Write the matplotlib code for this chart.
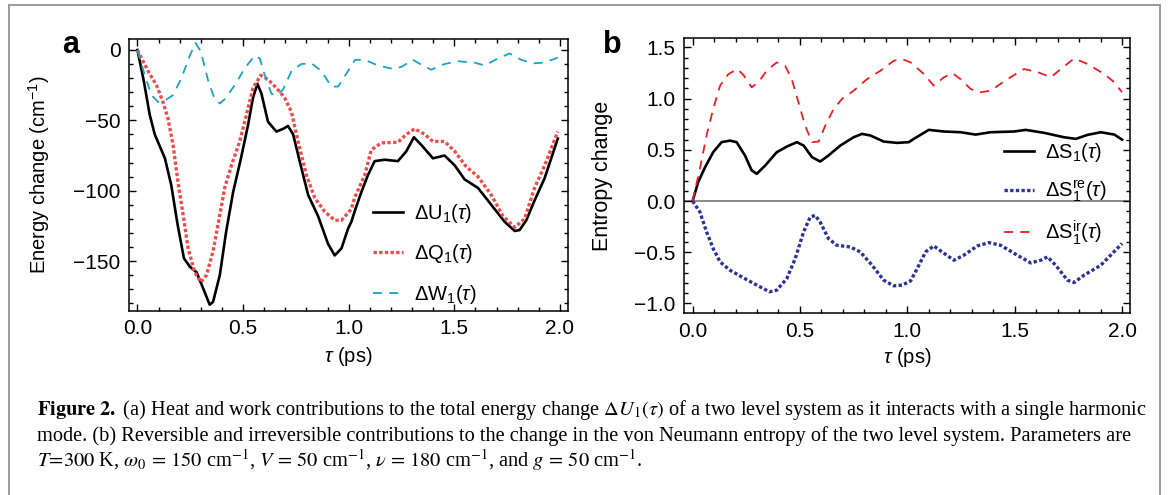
import numpy as np
import matplotlib
matplotlib.use("Agg")
import matplotlib.pyplot as plt
from matplotlib.patches import Rectangle
from matplotlib.ticker import MultipleLocator, FuncFormatter

# ---- data ----
# panel a : energy change (cm^-1) vs tau (ps)
tau_U = [0.0, 0.03, 0.058, 0.082, 0.13, 0.16, 0.19, 0.22, 0.248, 0.28, 0.31, 0.342, 0.358,
         0.39, 0.42, 0.453, 0.49, 0.524, 0.547, 0.568, 0.587, 0.618, 0.658, 0.69, 0.713,
         0.737, 0.768, 0.808, 0.855, 0.903, 0.934, 0.966, 0.997, 1.013, 1.03, 1.06, 1.091,
         1.123, 1.17, 1.233, 1.273, 1.309, 1.344, 1.399, 1.454, 1.502, 1.549, 1.612, 1.675,
         1.738, 1.786, 1.809, 1.841, 1.88, 1.928, 1.99]
dU = [0, -22, -46, -60, -77, -96, -124, -148, -154, -158, -169, -181, -179,
      -160, -129, -101, -77, -53, -34, -24, -31, -51, -58, -56, -54,
      -60, -79, -103, -118, -138, -146, -141, -127, -122, -114, -101, -89,
      -79, -78, -79, -72, -62, -67.5, -77, -75, -82, -92, -98, -110,
      -122, -128.6, -128, -121, -107, -91, -63]

tau_Q = [0.0, 0.05, 0.09, 0.121, 0.145, 0.169, 0.192, 0.216, 0.24, 0.271, 0.30, 0.327, 0.358,
         0.39, 0.413, 0.445, 0.484, 0.516, 0.547, 0.584, 0.618, 0.658, 0.697, 0.729, 0.76,
         0.80, 0.839, 0.887, 0.934, 0.966, 1.013, 1.028, 1.076, 1.107, 1.155, 1.233, 1.273,
         1.312, 1.36, 1.399, 1.454, 1.502, 1.557, 1.612, 1.675, 1.73, 1.786, 1.833, 1.88,
         1.928, 1.99]
dQ = [0, -15, -25, -37, -49, -68, -94, -117, -141, -158, -165, -160, -143,
      -117, -98, -82, -65, -46, -27, -18, -21, -27, -34, -44, -65,
      -89, -105, -115, -121, -121, -113, -105, -89, -71, -66, -65.6, -60,
      -56, -60, -65, -65, -72, -83, -90, -103, -118, -126, -120, -98,
      -82, -58]

tau_W = [0.0, 0.035, 0.066, 0.098, 0.129, 0.169, 0.208, 0.248, 0.275, 0.30, 0.335, 0.366, 0.39,
         0.413, 0.461, 0.508, 0.555, 0.579, 0.603, 0.634, 0.658, 0.69, 0.729, 0.776, 0.824,
         0.871, 0.918, 0.95, 0.997, 1.03, 1.076, 1.139, 1.21, 1.25, 1.304, 1.35, 1.391,
         1.454, 1.517, 1.596, 1.644, 1.707, 1.762, 1.817, 1.872, 1.928, 1.99]
dW = [0, -18, -32, -37, -36, -32, -20, -4, 5, -1, -22, -35, -38,
      -35, -25, -13, -4, -6, -18, -31, -32.5, -28, -15, -10, -9.5,
      -15, -26, -26, -15, -7, -7, -11, -13.5, -12, -7, -11, -14,
      -10, -8, -9, -11, -6, -2.5, -7, -9.5, -9, -5.4]

# panel b : entropy change vs tau (ps)
tau_S = [0.0, 0.026, 0.058, 0.096, 0.135, 0.174, 0.205, 0.244, 0.275, 0.299, 0.338, 0.392,
         0.439, 0.486, 0.517, 0.556, 0.594, 0.633, 0.688, 0.75, 0.789, 0.828, 0.89, 0.952,
         1.007, 1.03, 1.069, 1.10, 1.17, 1.248, 1.318, 1.388, 1.497, 1.551, 1.637, 1.73,
         1.785, 1.839, 1.901, 1.964, 2.0]
dS = [0, 0.185, 0.33, 0.477, 0.575, 0.59, 0.575, 0.445, 0.30, 0.266, 0.347, 0.477,
      0.532, 0.575, 0.542, 0.429, 0.386, 0.445, 0.542, 0.623, 0.656, 0.64, 0.581, 0.568,
      0.575, 0.607, 0.656, 0.695, 0.679, 0.672, 0.649, 0.672, 0.679, 0.695, 0.666, 0.623,
      0.607, 0.646, 0.672, 0.649, 0.60]

tau_re = [0.0, 0.034, 0.065, 0.096, 0.128, 0.174, 0.237, 0.299, 0.358, 0.392, 0.439, 0.478,
          0.517, 0.548, 0.571, 0.594, 0.633, 0.672, 0.734, 0.781, 0.836, 0.89, 0.937, 0.976,
          1.015, 1.046, 1.085, 1.123, 1.162, 1.217, 1.263, 1.326, 1.38, 1.435, 1.512, 1.575,
          1.621, 1.653, 1.691, 1.746, 1.777, 1.823, 1.901, 2.0]
dS_re = [0, -0.107, -0.30, -0.464, -0.594, -0.675, -0.75, -0.821, -0.886, -0.87, -0.756, -0.562,
         -0.30, -0.156, -0.14, -0.205, -0.367, -0.432, -0.448, -0.497, -0.627, -0.773, -0.828, -0.821,
         -0.78, -0.659, -0.497, -0.438, -0.497, -0.578, -0.529, -0.438, -0.406, -0.432, -0.529, -0.604,
         -0.578, -0.545, -0.627, -0.773, -0.795, -0.724, -0.627, -0.415]

tau_ir = [0.0, 0.034, 0.065, 0.096, 0.128, 0.167, 0.209, 0.237, 0.275, 0.307, 0.345, 0.392,
          0.431, 0.462, 0.493, 0.524, 0.556, 0.587, 0.618, 0.657, 0.696, 0.75, 0.812, 0.875,
          0.937, 0.976, 1.015, 1.077, 1.123, 1.17, 1.209, 1.248, 1.295, 1.341, 1.388, 1.466,
          1.543, 1.606, 1.668, 1.715, 1.777, 1.839, 1.917, 1.964, 2.0]
dS_ir = [0, 0.315, 0.64, 0.90, 1.127, 1.24, 1.289, 1.23, 1.11, 1.16, 1.273, 1.354,
         1.32, 1.19, 0.964, 0.737, 0.575, 0.581, 0.737, 0.90, 0.997, 1.078, 1.19, 1.273,
         1.37, 1.386, 1.354, 1.24, 1.127, 1.208, 1.25, 1.19, 1.094, 1.062, 1.078, 1.19,
         1.289, 1.26, 1.208, 1.289, 1.393, 1.338, 1.24, 1.16, 1.062]

caption_lines = [
    r"$\mathbf{Figure\ 2.}$ (a) Heat and work contributions to the total energy change "
    r"$\mathit{\Delta U}_1(\tau)$ of a two level system as it interacts with a single harmonic",
    "mode. (b) Reversible and irreversible contributions to the change in the von Neumann "
    "entropy of the two level system. Parameters are",
    r"$T\!=\!300$ K, $\omega_0\,=\,150$ cm$^{-1}$, $V\,=\,50$ cm$^{-1}$, "
    r"$\nu\,=\,180$ cm$^{-1}$, and $g\,=\,50$ cm$^{-1}$.",
]

plt.rcParams['font.family'] = ['Liberation Sans', 'DejaVu Sans']
plt.rcParams['mathtext.fontset'] = 'custom'
plt.rcParams['mathtext.rm'] = 'Liberation Sans'
plt.rcParams['mathtext.it'] = 'Liberation Sans:italic'
plt.rcParams['mathtext.bf'] = 'Liberation Sans:bold'


def one_decimal(v, pos):
    # 0.5 -> "0.5", -0.5 -> "−0.5" (real minus sign)
    return f'{v:.1f}'.replace('-', '\u2212')


def style_axes(ax):
    # Mathematica-like frame: ticks inside on all four sides
    for sp in ax.spines.values():
        sp.set_linewidth(1.1)
    ax.tick_params(which='both', direction='in', top=True, right=True,
                   labelsize=15, width=1.0)
    ax.tick_params(which='major', length=5, pad=6)
    ax.tick_params(which='minor', length=2.8)
    ax.xaxis.set_major_locator(MultipleLocator(0.5))
    ax.xaxis.set_minor_locator(MultipleLocator(0.1))
    ax.xaxis.set_major_formatter(FuncFormatter(one_decimal))
    ax.set_xlim(-0.04, 2.037)
    ax.set_xlabel(r'$\tau$ (ps)', fontsize=14.5)


fig = plt.figure(figsize=(11.71, 4.95), dpi=100)

# ---- panel a ----
ax1 = fig.add_axes([129 / 1171, 1 - 311 / 495, 438.7 / 1171, 272 / 495])
ax1.plot(tau_U, dU, color='black', lw=1.9, label=r'$\Delta\mathrm{U}_1(\tau)$')
ax1.plot(tau_Q, dQ, color='#f04b4b', lw=2.4, linestyle=(0, (1.0, 0.7)),
         label=r'$\Delta\mathrm{Q}_1(\tau)$')
ax1.plot(tau_W, dW, color='#1ba3c6', lw=1.3, linestyle=(0, (5, 4)),
         label=r'$\Delta\mathrm{W}_1(\tau)$')
style_axes(ax1)
ax1.set_ylim(-185.5, 7.8)
ax1.yaxis.set_major_locator(MultipleLocator(50))
ax1.yaxis.set_minor_locator(MultipleLocator(10))
ax1.set_ylabel(r'Energy change (cm$^{-1}$)', fontsize=14.5)
ax1.yaxis.set_label_coords(-0.175, 0.5)
ax1.xaxis.set_label_coords(0.5, -0.125)
ax1.legend(loc='upper left', bbox_to_anchor=((373 - 129) / 438.7, (311 - 202) / 272),
           frameon=False, fontsize=14.5, handlelength=1.5, handletextpad=0.55,
           labelspacing=0.86, borderpad=0, borderaxespad=0)
fig.text(62 / 1171, 1 - 53 / 495, 'a', fontsize=22, fontweight='bold', ha='left', va='baseline')

# ---- panel b ----
ax2 = fig.add_axes([684 / 1171, 1 - 313.3 / 495, 446 / 1171, 275.6 / 495])
ax2.axhline(0, color='#808080', lw=1.3, zorder=1)
ax2.plot(tau_S, dS, color='black', lw=1.9, label=r'$\Delta\mathrm{S}_1(\tau)$')
ax2.plot(tau_re, dS_re, color='#2b3494', lw=2.4, linestyle=(0, (1.0, 0.7)),
         label=r'$\Delta\mathrm{S}_1^{\mathrm{re}}(\tau)$')
ax2.plot(tau_ir, dS_ir, color='#ee1c25', lw=1.3, linestyle=(0, (5, 4)),
         label=r'$\Delta\mathrm{S}_1^{\mathrm{ir}}(\tau)$')
style_axes(ax2)
ax2.set_ylim(-1.096, 1.595)
ax2.yaxis.set_major_locator(MultipleLocator(0.5))
ax2.yaxis.set_minor_locator(MultipleLocator(0.1))
ax2.yaxis.set_major_formatter(FuncFormatter(one_decimal))
ax2.set_ylabel('Entropy change', fontsize=15.5)
ax2.yaxis.set_label_coords(-0.16, 0.5)
ax2.xaxis.set_label_coords(0.5, -0.12)
ax2.legend(loc='upper left', bbox_to_anchor=((1004 - 684) / 446, (313.3 - 141) / 275.6),
           frameon=False, fontsize=14.5, handlelength=1.5, handletextpad=0.55,
           labelspacing=0.72, borderpad=0, borderaxespad=0)
fig.text(603 / 1171, 1 - 53 / 495, 'b', fontsize=22, fontweight='bold', ha='left', va='baseline')

# ---- caption and the box around the figure ----
baselines = [415, 441, 467]
for line, yb in zip(caption_lines, baselines):
    fig.text(37 / 1171, 1 - yb / 495, line, fontsize=14.7, family='Liberation Serif',
             math_fontfamily='stix', ha='left', va='baseline')

fig.add_artist(Rectangle((9 / 1171, -0.1), (1160 - 9) / 1171, 1.1 - 5 / 495,
                         transform=fig.transFigure, fill=False,
                         edgecolor='#9a9a9a', lw=1.4))

fig.savefig('out.png', dpi=100)
